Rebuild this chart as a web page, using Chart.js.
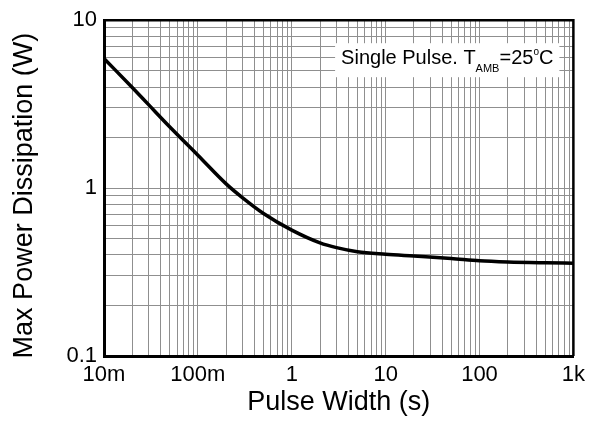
<!DOCTYPE html>
<html>
<head>
<meta charset="utf-8">
<script src="https://cdn.jsdelivr.net/npm/chart.js@4.4.1/dist/chart.umd.min.js"></script>
<style>
html, body { margin: 0; padding: 0; background: #fff; }
</style>
</head>
<body>
<canvas id="power-chart" width="591" height="422"></canvas>
<script>
// curve (s, W)
var pulseWidth = [0.01, 0.02, 0.03, 0.05, 0.1, 0.2, 0.3, 0.5, 1, 2, 3, 5, 10, 20, 50, 100, 200, 500, 1000];
var maxPower = [5.92, 3.97, 3.13, 2.32, 1.57, 1.06, 0.875, 0.706, 0.562, 0.472, 0.442, 0.418, 0.404, 0.394, 0.381, 0.369, 0.363, 0.359, 0.357];

var xTickValues = [0.01, 0.1, 1, 10, 100, 1000];
var xTickLabels = ['10m', '100m', '1', '10', '100', '1k'];
var yTickValues = [0.1, 1, 10];
var yTickLabels = ['0.1', '1', '10'];

var xTitle = 'Pulse Width (s)';
var yTitle = 'Max Power Dissipation (W)';
var noteText = ['Single Pulse. T', 'AMB', '=25', 'o', 'C'];

var FONT = "'Liberation Sans', Arial, sans-serif";

// every decade gets 1..9 grid lines
function gridValues(decades) {
  var out = [];
  for (var i = 0; i < decades.length - 1; i++) {
    for (var k = 1; k < 10; k++) {
      out.push(Number((k * decades[i]).toPrecision(6)));
    }
  }
  out.push(decades[decades.length - 1]);
  return out;
}

function labelFor(value, values, labels) {
  for (var i = 0; i < values.length; i++) {
    if (Math.abs(Math.log10(value) - Math.log10(values[i])) < 1e-6) {
      return labels[i];
    }
  }
  return '';
}

var framePlugin = {
  id: 'frame',
  afterDraw: function(chart) {
    var ctx = chart.ctx;
    var a = chart.chartArea;
    ctx.save();
    // top and right edge of the frame
    ctx.strokeStyle = '#000';
    ctx.lineWidth = 2.5;
    ctx.beginPath();
    ctx.moveTo(a.left, a.top);
    ctx.lineTo(a.right, a.top);
    ctx.lineTo(a.right, a.bottom);
    ctx.stroke();

    // note box
    var styles = [
      { size: 20, rise: 0 },
      { size: 11, rise: 8 },
      { size: 20, rise: 0 },
      { size: 10, rise: -9 },
      { size: 20, rise: 0 }
    ];
    var total = 0;
    var widths = [];
    for (var i = 0; i < noteText.length; i++) {
      ctx.font = styles[i].size + 'px ' + FONT;
      widths.push(ctx.measureText(noteText[i]).width);
      total += widths[i];
    }
    var boxRight = a.right - 14;
    var boxLeft = boxRight - total - 12;
    var boxTop = a.top + 23;
    var boxBottom = a.top + 57;
    ctx.fillStyle = '#fff';
    ctx.fillRect(boxLeft, boxTop, boxRight - boxLeft, boxBottom - boxTop);
    ctx.fillStyle = '#000';
    ctx.textBaseline = 'alphabetic';
    ctx.textAlign = 'left';
    var x = boxLeft + 6;
    var base = a.top + 44;
    for (var j = 0; j < noteText.length; j++) {
      ctx.font = styles[j].size + 'px ' + FONT;
      ctx.fillText(noteText[j], x, base + styles[j].rise);
      x += widths[j];
    }
    ctx.restore();
  }
};

new Chart(document.getElementById('power-chart'), {
  type: 'line',
  data: {
    datasets: [{
      data: pulseWidth.map(function(v, i) { return { x: v, y: maxPower[i] }; }),
      borderColor: '#000',
      borderWidth: 3.5,
      pointRadius: 0,
      fill: false,
      cubicInterpolationMode: 'monotone'
    }]
  },
  options: {
    responsive: false,
    animation: false,
    layout: { padding: { top: 20, right: 15, left: 0, bottom: 0 } },
    plugins: {
      legend: { display: false },
      tooltip: { enabled: false }
    },
    scales: {
      x: {
        type: 'logarithmic',
        min: 0.01,
        max: 1000,
        afterBuildTicks: function(scale) {
          scale.ticks = gridValues(xTickValues).map(function(v) { return { value: v }; });
        },
        afterFit: function(scale) { scale.height = 66; },
        grid: { color: '#8f8f8f', lineWidth: 1, drawTicks: false },
        border: { color: '#000', width: 3 },
        ticks: {
          autoSkip: false,
          maxRotation: 0,
          padding: 6,
          color: '#000',
          font: { family: FONT, size: 22 },
          callback: function(value) { return labelFor(value, xTickValues, xTickLabels); }
        },
        title: {
          display: true,
          text: xTitle,
          color: '#000',
          font: { family: FONT, size: 27 },
          padding: { top: 0, bottom: 3 }
        }
      },
      y: {
        type: 'logarithmic',
        min: 0.1,
        max: 10,
        afterBuildTicks: function(scale) {
          scale.ticks = gridValues(yTickValues).map(function(v) { return { value: v }; });
        },
        afterFit: function(scale) { scale.width = 104; },
        grid: { color: '#8f8f8f', lineWidth: 1, drawTicks: false },
        border: { color: '#000', width: 3 },
        ticks: {
          autoSkip: false,
          padding: 7,
          color: '#000',
          font: { family: FONT, size: 22 },
          callback: function(value) { return labelFor(value, yTickValues, yTickLabels); }
        },
        title: {
          display: true,
          // two trailing spaces nudge the rotated title down to match the sheet
          text: yTitle + '  ',
          color: '#000',
          font: { family: FONT, size: 27 },
          padding: { top: 8, bottom: 0 }
        }
      }
    }
  },
  plugins: [framePlugin]
});
</script>
</body>
</html>
